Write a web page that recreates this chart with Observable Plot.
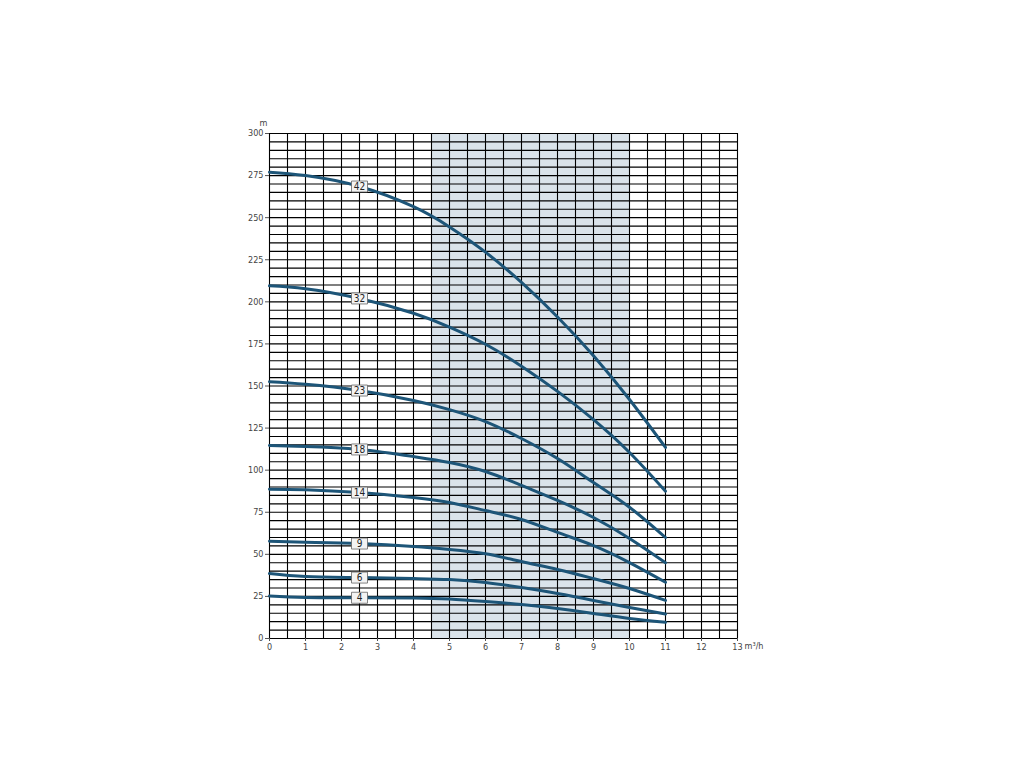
<!DOCTYPE html>
<html>
<head>
<meta charset="utf-8">
<script src="https://cdn.jsdelivr.net/npm/d3@7"></script>
<script src="https://cdn.jsdelivr.net/npm/@observablehq/plot@0.6"></script>
<style>
  html, body { margin: 0; padding: 0; background: #fff; }
  #chart svg { display: block; }
</style>
</head>
<body>
<div id="chart"></div>
<script>
// Flow (m³/h) sample positions
const flow = [0, 1, 2.5, 4, 5, 6, 7, 8, 9, 10, 11];
// Head (m) for each pump stage count
const stages = [42, 32, 23, 18, 14, 9, 6, 4];
const head42 = [277, 275, 268.5, 256.5, 244.5, 229.5, 211.5, 191, 168, 142, 113.5];
const head32 = [209.5, 207.8, 202, 193.2, 185, 174.8, 161.8, 146.8, 130, 110.5, 87.5];
const head23 = [152.5, 151, 147.3, 141.4, 136, 128.9, 118.8, 106.9, 92.7, 78, 60];
const head18 = [114.7, 114.1, 112.3, 108.1, 104.6, 99.2, 90.9, 82, 71.9, 59.4, 45];
const head14 = [88.7, 88.4, 86.7, 83.8, 80.8, 76, 70.7, 63, 55.2, 45.1, 33.4];
const head9  = [57.8, 57.2, 56.4, 54.7, 52.9, 50.3, 45.7, 41, 35.6, 29.7, 22.6];
const head6  = [38.6, 36.8, 36.2, 35.6, 35, 33.3, 30.3, 26.7, 22.6, 18.4, 14.5];
const head4  = [25.2, 24.3, 24.2, 24.1, 23.5, 22, 20.2, 17.8, 14.9, 11.9, 9.6];
const heads = [head42, head32, head23, head18, head14, head9, head6, head4];
// label position along flow axis
const labelFlow = 2.5;
// shaded operating range
const shadeFrom = 4.5, shadeTo = 10;
// tick values
const xTicks = [0,1,2,3,4,5,6,7,8,9,10,11,12,13];
const yTicks = [0,25,50,75,100,125,150,175,200,225,250,275,300];
const xGrid = d3.range(0, 13.001, 0.5);
const yGrid = d3.range(0, 300.001, 5);

const curveData = [];
stages.forEach((s, i) => flow.forEach((q, j) => curveData.push({stage: s, q, h: heads[i][j]})));
const labelData = stages.map((s, i) => ({stage: s, q: labelFlow, h: heads[i][flow.indexOf(labelFlow)]}));

const boxSymbol = { draw(ctx, size) { ctx.rect(-8, -5.5, 16, 11); } };
const font = "'Liberation Sans Narrow','DejaVu Sans Condensed','Roboto',sans-serif";

const chart = Plot.plot({
  width: 1024,
  height: 768,
  marginLeft: 269,
  marginRight: 287,
  marginTop: 133,
  marginBottom: 130,
  style: { fontFamily: font, fontSize: "9px", color: "#444", background: "#fff" },
  x: { domain: [0, 13] },
  y: { domain: [0, 300] },
  marks: [
    Plot.rect([{a: shadeFrom, b: shadeTo}], {x1: "a", x2: "b", y1: 0, y2: 300, fill: "#dae3ea"}),
    Plot.ruleY(yGrid, {stroke: "#000", strokeWidth: 1.1}),
    Plot.ruleX(xGrid, {stroke: "#000", strokeWidth: 1.1}),
    Plot.axisX({ticks: xTicks, tickSize: 3, tickPadding: 2, label: null, fontSize: 9, stroke: "#555"}),
    Plot.axisY({ticks: yTicks, tickSize: 4, tickPadding: 2, label: null, fontSize: 9, stroke: "#555"}),
    Plot.line(curveData, {x: "q", y: "h", z: "stage", stroke: "#1d5578", strokeWidth: 3, curve: "natural"}),
    Plot.dot(labelData, {x: "q", y: "h", symbol: boxSymbol, r: 5, fill: "#f3f3f3", stroke: "#666", strokeWidth: 0.8}),
    Plot.text(labelData, {x: "q", y: "h", text: d => String(d.stage), fontSize: 10, fill: "#222", dy: 0.5}),
    Plot.text(["m"], {frameAnchor: "top-left", dx: -10, dy: -14, fontSize: 9, fill: "#444"}),
    Plot.text(["m³/h"], {frameAnchor: "bottom-right", dx: 7, dy: 10, textAnchor: "start", fontSize: 9, fill: "#444"})
  ]
});
document.getElementById("chart").appendChild(chart);
</script>
</body>
</html>
